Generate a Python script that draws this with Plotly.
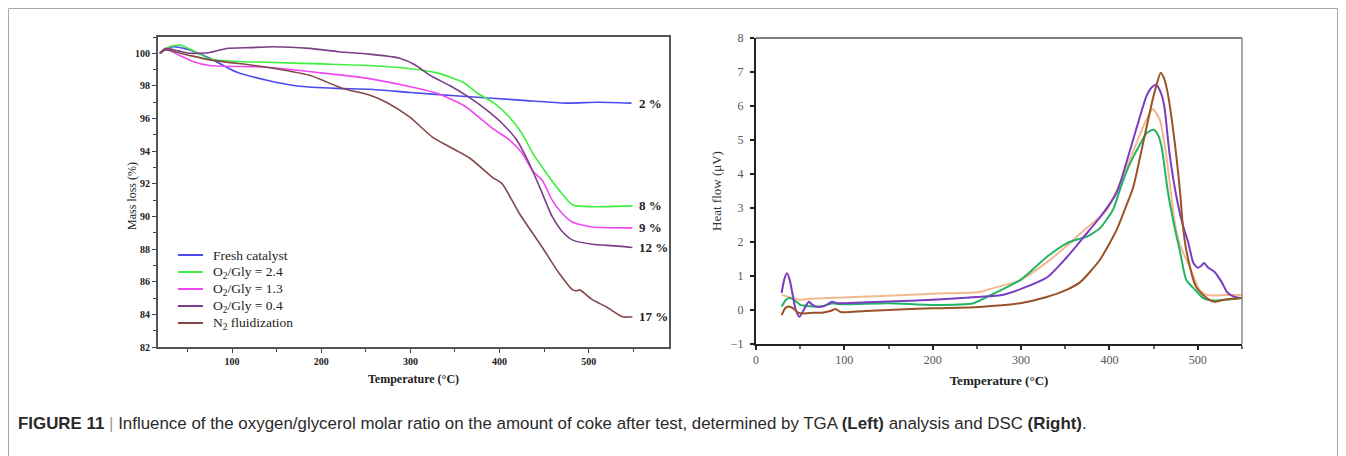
import plotly.graph_objects as go

# The page body adds an 8px margin, so the figure is 8px smaller and coordinates are offset
W, H = 1338, 448
OFF = 8

# ---------------- TGA (left) data ----------------
tga_names = ["Fresh catalyst", "O<sub>2</sub>/Gly = 2.4", "O<sub>2</sub>/Gly = 1.3",
             "O<sub>2</sub>/Gly = 0.4", "N<sub>2</sub> fluidization"]
tga_colors = ["#4a4af0", "#3ef03e", "#f048f0", "#7a3f86", "#844848"]

t_fresh = [19, 33, 50, 75, 105, 139, 173, 217, 254, 300, 350, 392, 430, 475, 510, 548]
m_fresh = [100.0, 100.4, 100.25, 99.7, 98.85, 98.35, 98.0, 97.85, 97.8, 97.6, 97.4, 97.25, 97.1, 96.95, 97.0, 96.95]

t_g24 = [19, 30, 42, 55, 75, 105, 139, 200, 254, 300, 330, 360, 374, 395, 411, 425, 437, 452, 467, 482, 504, 549]
m_g24 = [100.0, 100.4, 100.5, 100.2, 99.65, 99.5, 99.45, 99.35, 99.25, 99.05, 98.8, 98.2, 97.6, 96.9, 96.1, 95.1, 93.9, 92.7, 91.6, 90.7, 90.6, 90.65]

t_g13 = [19, 27, 40, 56, 75, 139, 200, 254, 300, 330, 360, 392, 411, 425, 437, 448, 459, 470, 482, 504, 549]
m_g13 = [100.0, 100.25, 99.9, 99.5, 99.25, 99.15, 98.8, 98.45, 97.95, 97.55, 96.8, 95.4, 94.7, 93.9, 92.8, 92.2, 91.0, 90.2, 89.65, 89.35, 89.3]

t_g04 = [19, 25, 40, 53, 75, 94, 120, 146, 187, 220, 254, 288, 305, 322, 345, 366, 385, 403, 419, 432, 445, 459, 470, 482, 504, 530, 549]
m_g04 = [100.0, 100.3, 100.15, 100.0, 100.05, 100.3, 100.35, 100.4, 100.3, 100.1, 99.95, 99.7, 99.3, 98.65, 98.0, 97.3, 96.55, 95.7, 94.7, 93.4, 91.8, 90.0, 89.1, 88.55, 88.3, 88.2, 88.1]

t_n2 = [19, 25, 50, 75, 139, 187, 224, 254, 273, 299, 325, 336, 366, 392, 403, 422, 448, 467, 482, 487, 490, 504, 520, 538, 549]
m_n2 = [100.0, 100.2, 99.9, 99.6, 99.15, 98.65, 97.85, 97.45, 97.0, 96.1, 94.85, 94.5, 93.6, 92.4, 92.0, 90.2, 88.1, 86.5, 85.5, 85.45, 85.5, 84.9, 84.45, 83.85, 83.85]

end_labels = ["2 %", "8 %", "9 %", "12 %", "17 %"]

# ---------------- DSC (right) data ----------------
dsc_colors = ["#f4b88e", "#20b464", "#7a3cc0", "#9a5228"]

t_d_or = [29, 35, 42, 50, 60, 80, 100, 150, 200, 253, 265, 299, 329, 350, 367, 381, 397, 412, 423, 432, 440, 449, 457, 465, 474, 480, 491, 502, 510, 530, 550]
v_d_or = [0.44, 0.4, 0.35, 0.3, 0.33, 0.35, 0.37, 0.42, 0.48, 0.53, 0.62, 0.88, 1.4, 1.85, 2.25, 2.56, 2.94, 3.74, 4.41, 5.0, 5.5, 5.91, 5.59, 4.41, 2.56, 1.9, 1.26, 0.59, 0.44, 0.44, 0.44]

t_d_gr = [29, 34, 38, 44, 50, 58, 67, 77, 86, 95, 150, 200, 246, 265, 299, 329, 352, 367, 374, 389, 404, 412, 419, 425, 432, 442, 450, 455, 459, 466, 474, 480, 487, 497, 506, 516, 530, 550]
v_d_gr = [0.1, 0.3, 0.35, 0.28, 0.15, 0.12, 0.1, 0.12, 0.2, 0.17, 0.2, 0.15, 0.2, 0.43, 0.88, 1.56, 1.97, 2.1, 2.15, 2.4, 2.95, 3.55, 4.05, 4.4, 4.75, 5.2, 5.3, 5.15, 4.8, 3.5, 2.4, 1.7, 0.88, 0.59, 0.35, 0.28, 0.3, 0.35]

t_d_pu = [29, 32, 35, 38, 42, 45, 49, 53, 57, 60, 64, 68, 75, 81, 86, 92, 100, 150, 200, 250, 280, 300, 330, 350, 370, 390, 408, 419, 431, 442, 448, 453, 458, 462, 468, 476, 483, 489, 495, 500, 504, 507, 512, 519, 527, 533, 540, 550]
v_d_pu = [0.5, 0.9, 1.08, 0.9, 0.38, 0.0, -0.2, -0.05, 0.15, 0.24, 0.15, 0.1, 0.1, 0.17, 0.24, 0.2, 0.2, 0.25, 0.3, 0.38, 0.45, 0.62, 0.97, 1.5, 2.12, 2.75, 3.44, 4.32, 5.38, 6.3, 6.55, 6.62, 6.4, 6.0, 4.6, 3.3, 2.5, 2.0, 1.38, 1.24, 1.3, 1.38, 1.24, 1.12, 0.82, 0.53, 0.4, 0.35]

t_d_br = [29, 33, 37, 42, 48, 55, 65, 75, 85, 90, 96, 110, 150, 200, 253, 299, 329, 352, 367, 389, 408, 418, 427, 438, 448, 453, 458, 462, 466, 474, 480, 483, 487, 498, 510, 519, 530, 550]
v_d_br = [-0.15, 0.05, 0.1, 0.05, -0.08, -0.1, -0.08, -0.08, -0.02, 0.03, -0.06, -0.05, 0.0, 0.05, 0.09, 0.2, 0.38, 0.6, 0.82, 1.47, 2.35, 3.0, 3.62, 4.9, 6.09, 6.6, 6.98, 6.8, 6.37, 4.9, 3.44, 2.5, 1.76, 0.68, 0.35, 0.24, 0.3, 0.35]

caption = ("<b>FIGURE 11</b> <span style='color:#9a9a9a'>|</span> Influence of the oxygen/glycerol molar ratio "
           "on the amount of coke after test, determined by TGA <b>(Left)</b> analysis and DSC <b>(Right)</b>.")

SERIF = "Liberation Serif, Times New Roman, serif"


def px_x(p):
    return (p - OFF) / W


def px_y(p):
    return 1 - (p - OFF) / H


fig = go.Figure()

tga_t = [t_fresh, t_g24, t_g13, t_g04, t_n2]
tga_m = [m_fresh, m_g24, m_g13, m_g04, m_n2]
for name, col, tt, mm in zip(tga_names, tga_colors, tga_t, tga_m):
    fig.add_trace(go.Scatter(x=tt, y=mm, mode="lines", name=name, showlegend=False,
                             line=dict(color=col, width=1.6, shape="spline", smoothing=0.6),
                             xaxis="x", yaxis="y"))

for tt, mm, lab in zip(tga_t, tga_m, end_labels):
    fig.add_annotation(x=tt[-1], y=mm[-1], xref="x", yref="y", text=lab,
                       showarrow=False, xanchor="left", yanchor="middle", xshift=5,
                       font=dict(family=SERIF, size=13, color="#222", weight="bold"))

# compact legend (key lines + labels) inside the TGA panel
leg_rows = [255, 272, 289, 306, 323]
for name, col, ry in zip(tga_names, tga_colors, leg_rows):
    fig.add_shape(type="line", xref="paper", yref="paper", x0=px_x(178), x1=px_x(203),
                  y0=px_y(ry), y1=px_y(ry), line=dict(color=col, width=2))
    fig.add_annotation(x=px_x(211), y=px_y(ry), xref="paper", yref="paper", text=name,
                       showarrow=False, xanchor="left", yanchor="middle",
                       font=dict(family=SERIF, size=13.5, color="#222"))

dsc_t = [t_d_or, t_d_gr, t_d_pu, t_d_br]
dsc_v = [v_d_or, v_d_gr, v_d_pu, v_d_br]
for col, tt, vv, nm in zip(dsc_colors, dsc_t, dsc_v, ["DSC a", "DSC b", "DSC c", "DSC d"]):
    fig.add_trace(go.Scatter(x=tt, y=vv, mode="lines", name=nm, showlegend=False,
                             line=dict(color=col, width=2, shape="spline", smoothing=0.6),
                             xaxis="x2", yaxis="y2"))

tickfont_l = dict(family=SERIF, size=10, color="#222", weight="bold")
tickfont_r = dict(family=SERIF, size=12, color="#555")

fig.update_layout(
    width=W, height=H,
    template="none",
    margin=dict(l=0, r=0, t=0, b=0),
    paper_bgcolor="white", plot_bgcolor="white",
    showlegend=False,
    xaxis=dict(domain=[px_x(158), px_x(669)], range=[17, 590], anchor="y",
               tickvals=[100, 200, 300, 400, 500], ticks="outside", ticklen=4, tickwidth=1,
               tickcolor="#444", minor=dict(dtick=50, tick0=0, ticks="outside", ticklen=3, tickcolor="#444"),
               showline=True, linecolor="#555", linewidth=1.8, mirror=True, showgrid=False, zeroline=False,
               tickfont=tickfont_l,
               title=dict(text="Temperature (°C)", font=dict(family=SERIF, size=12, color="#222", weight="bold"),
                          standoff=9)),
    yaxis=dict(domain=[px_y(347), px_y(37)], range=[82, 101], anchor="x",
               tickvals=[82, 84, 86, 88, 90, 92, 94, 96, 98, 100], ticks="outside", ticklen=4, tickwidth=1,
               tickcolor="#444", minor=dict(dtick=1, tick0=0, ticks="outside", ticklen=3, tickcolor="#444"),
               showline=True, linecolor="#555", linewidth=1.8, mirror=True, showgrid=False, zeroline=False,
               tickfont=tickfont_l),
    xaxis2=dict(domain=[px_x(756), px_x(1242)], range=[0, 550], anchor="y2",
                tickvals=[0, 100, 200, 300, 400, 500], ticks="outside", ticklen=4, tickwidth=1.5,
                tickcolor="#222", minor=dict(dtick=50, tick0=0, ticks="outside", ticklen=3, tickcolor="#666"),
                showline=True, linecolor="#222", linewidth=2, mirror=False, showgrid=False, zeroline=False,
                tickfont=tickfont_r,
                title=dict(text="Temperature (°C)", font=dict(family=SERIF, size=13, color="#222", weight="bold"),
                           standoff=9)),
    yaxis2=dict(domain=[px_y(344), px_y(38)], range=[-1, 8], anchor="x2",
                tickvals=[-1, 0, 1, 2, 3, 4, 5, 6, 7, 8], ticks="outside", ticklen=4, tickwidth=1.5,
                tickcolor="#222", showline=True, linecolor="#222", linewidth=2, mirror=False,
                showgrid=False, zeroline=False, tickfont=tickfont_r, ticklabelstandoff=4,
                title=dict(text="Heat flow (μV)", font=dict(family=SERIF, size=13, color="#333"), standoff=6)),
)

# y-axis title of the TGA panel
fig.add_annotation(x=px_x(132), y=px_y(196), xref="paper", yref="paper", text="Mass loss (%)",
                   textangle=-90, showarrow=False, xanchor="center", yanchor="middle",
                   font=dict(family=SERIF, size=12, color="#222"))

# top and right frame of the DSC panel (lighter)
fig.add_shape(type="line", xref="x2 domain", yref="y2 domain", x0=0, x1=1, y0=1, y1=1,
              line=dict(color="#555", width=1.5))
fig.add_shape(type="line", xref="x2 domain", yref="y2 domain", x0=1, x1=1, y0=0, y1=1,
              line=dict(color="#888", width=1.5))

# outer figure frame
fig.add_shape(type="rect", xref="paper", yref="paper", x0=px_x(8.5), x1=px_x(1337.5), y0=-0.05, y1=px_y(8.5),
              line=dict(color="#a8a8a8", width=1), fillcolor="rgba(0,0,0,0)", layer="below")

fig.add_annotation(x=px_x(16), y=px_y(423), xref="paper", yref="paper", text=caption, showarrow=False,
                   xanchor="left", yanchor="middle",
                   font=dict(family="Liberation Sans, Arial, sans-serif", size=16.9, color="#2a2a2a"))

fig.write_html("out.html")
